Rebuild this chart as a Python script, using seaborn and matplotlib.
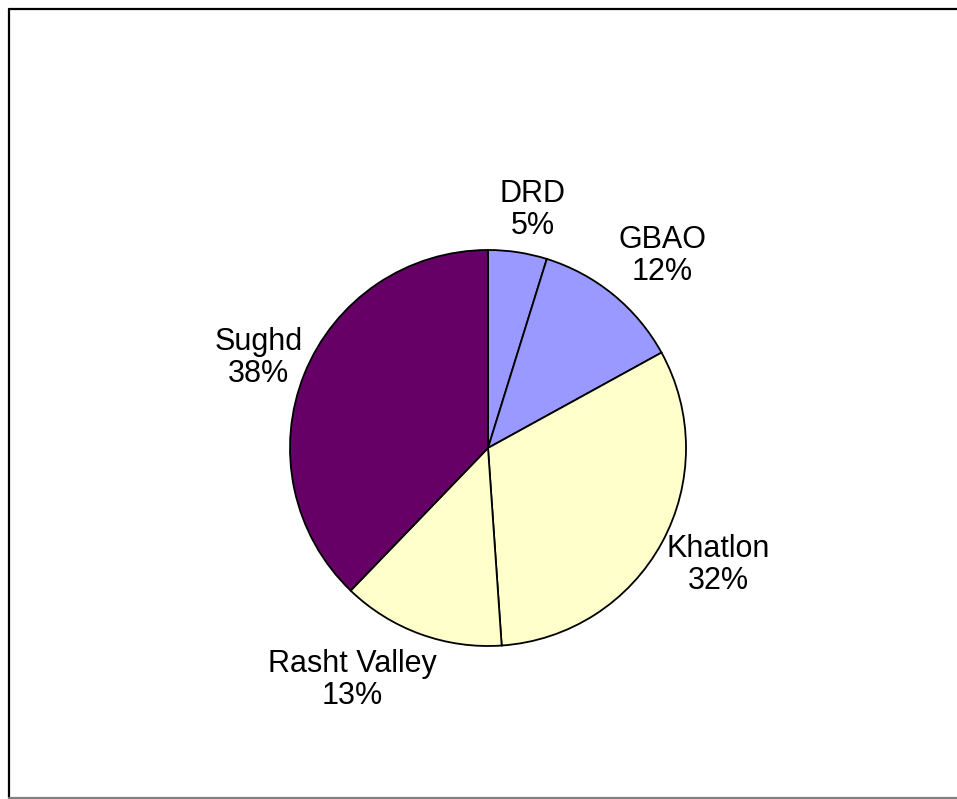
import matplotlib
matplotlib.use("Agg")
import matplotlib.pyplot as plt
from matplotlib.lines import Line2D
import seaborn as sns

categories = ["DRD", "GBAO", "Khatlon", "Rasht Valley", "Sughd"]
values = [4.8, 12.2, 31.9, 13.3, 37.8]
colors = ["#9999FF", "#9999FF", "#FFFFCC", "#FFFFCC", "#660066"]

sns.set_theme(style="white")
plt.rcParams['font.family'] = ['Liberation Sans', 'DejaVu Sans']

W, H = 957, 799
fig = plt.figure(figsize=(W / 100, H / 100), dpi=100)
fig.patch.set_facecolor("white")

cx, cy, r = 488, 448, 198
ax = fig.add_axes([(cx - r) / W, (H - cy - r) / H, 2 * r / W, 2 * r / H])
ax.set_aspect("equal")

total = sum(values)
labels = [f"{c}\n{v / total * 100:.0f}%" for c, v in zip(categories, values)]
wedges, texts = ax.pie(values, labels=labels, colors=colors, startangle=90,
                       counterclock=False, radius=1.0, labeldistance=1.25,
                       wedgeprops=dict(edgecolor="black", linewidth=1.3),
                       textprops=dict(fontsize=22, color="black"))

label_pos = [(0.227, 1.202), (0.879, 0.970), (1.162, -0.591),
             (-0.687, -1.172), (-1.157, 0.455)]
for t, p in zip(texts, label_pos):
    t.set_position(p)
    t.set_ha("center")
    t.set_va("center")
    t.set_multialignment("center")
    t.set_linespacing(1.12)

ax.set_xlim(-1, 1)
ax.set_ylim(-1, 1)
ax.axis("off")

# figure frame (left/top black, bottom gray)
x0, y0 = 8.5 / W, (H - 797.5) / H
y1 = (H - 8.5) / H
fig.add_artist(Line2D([x0, 1.0], [y1, y1], color="black", linewidth=1.6, transform=fig.transFigure))
fig.add_artist(Line2D([x0, x0], [y0, y1], color="black", linewidth=1.6, transform=fig.transFigure))
fig.add_artist(Line2D([x0, 1.0], [y0, y0], color="#808080", linewidth=1.6, transform=fig.transFigure))

fig.savefig("out.png", dpi=100, facecolor="white")
